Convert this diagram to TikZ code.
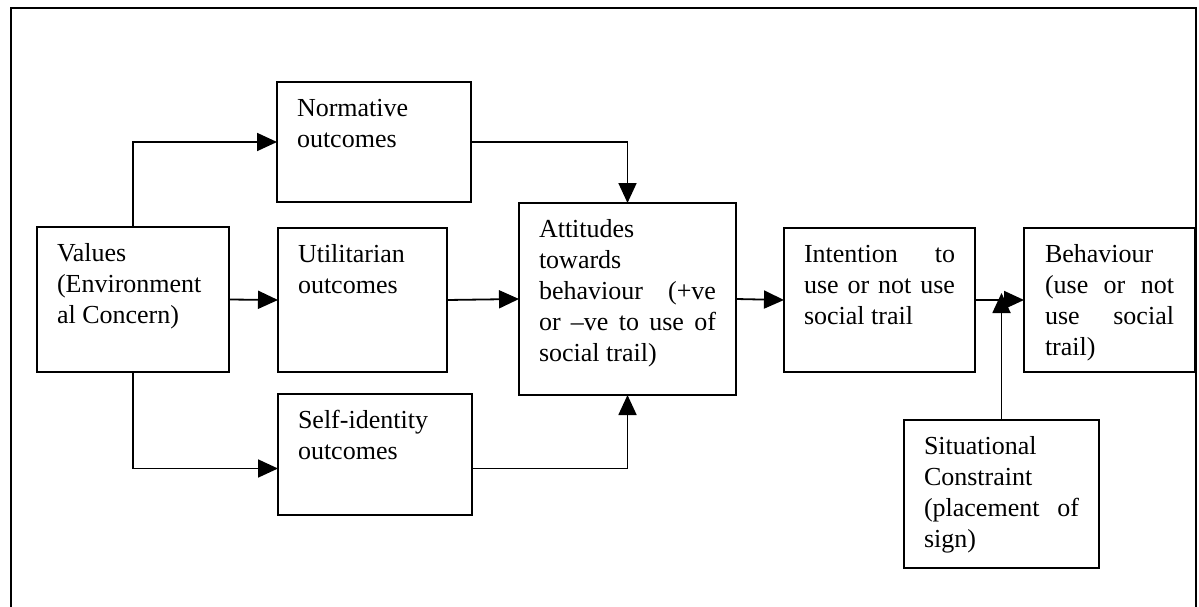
\documentclass[tikz,border=0pt]{standalone}
\usepackage{fontspec}
\setmainfont{Liberation Serif}
\usetikzlibrary{arrows.meta}
% text block of a box: width, height, lines (top aligned)
\newcommand{\bodytext}[3]{\parbox[c][#2][t]{#1}{\vspace*{13pt}\strut #3}}
\begin{document}
\begin{tikzpicture}[x=1pt,y=-1pt,
  line width=1.8pt,
  tbox/.style={draw, anchor=north west, inner xsep=20pt, inner ysep=0pt, outer sep=0pt},
  arr/.style={-{Triangle[length=20pt,width=18pt]}},
  font=\fontsize{26}{31}\selectfont]
\useasboundingbox (0,0) rectangle (1199,607);

% outer frame
\draw (11,607) -- (11,8) -- (1196,8) -- (1196,607);

% boxes
\node[tbox] (val) at (37,227)
  {\bodytext{152pt}{145pt}{Values\\(Environment\\al Concern)}};
\node[tbox] (norm) at (277,82)
  {\bodytext{154pt}{120pt}{Normative\\outcomes}};
\node[tbox] (util) at (278,228)
  {\bodytext{129pt}{144pt}{Utilitarian\\outcomes}};
\node[tbox] (self) at (278,394)
  {\bodytext{154pt}{121pt}{Self-identity\\outcomes}};
\node[tbox] (att) at (519,203)
  {\bodytext{177pt}{192pt}{Attitudes\\towards\\\makebox[177pt][s]{behaviour (+ve}\\\makebox[177pt][s]{or –ve to use of}\\social trail)}};
\node[tbox] (int) at (784,228)
  {\bodytext{151pt}{144pt}{\makebox[151pt][s]{Intention to}\\\makebox[151pt][s]{use or not use}\\social trail}};
\node[tbox, inner xsep=21pt] (beh) at (1024,228)
  {\bodytext{129pt}{144pt}{Behaviour\\\makebox[129pt][s]{(use or not}\\\makebox[129pt][s]{use social}\\trail)}};
\node[tbox] (sit) at (904,420)
  {\bodytext{155pt}{148pt}{Situational\\Constraint\\\makebox[155pt][s]{(placement of}\\sign)}};

% connectors
\draw[arr] (val.north) |- (norm.west);
\draw[arr] (val.east) -- (util.west);
\draw[arr] (val.south) |- ([yshift=-14pt]self.west);
\draw[arr] (norm.east) -| (att.north);
\draw[arr] (util.east) -- (att.west);
\draw[arr] ([yshift=-14pt]self.east) -| (att.south);
\draw[arr] (att.east) -- (int.west);
\draw[arr] (int.east) -- (beh.west);
\draw[arr, shorten >=-7pt] (sit.north) -- (sit.north |- int.east);
\end{tikzpicture}
\end{document}
